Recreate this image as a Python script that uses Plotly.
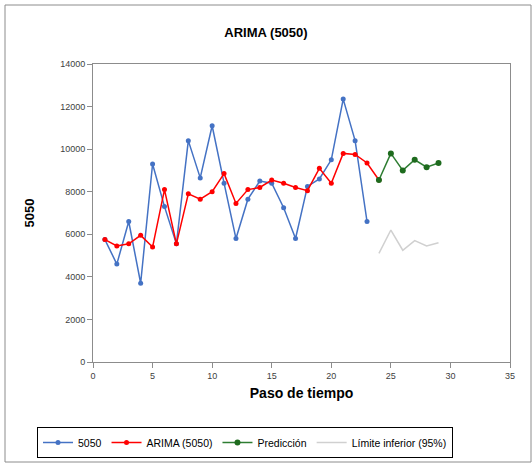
import plotly.graph_objects as go

steps_obs = list(range(1, 24))
obs_5050 = [5750, 4600, 6600, 3700, 9300, 7300, 5550, 10400, 8650, 11100, 8400, 5800,
            7650, 8500, 8400, 7250, 5800, 8250, 8600, 9500, 12350, 10400, 6600]
steps_arima = list(range(1, 25))
arima_5050 = [5750, 5450, 5550, 5950, 5400, 8100, 5550, 7900, 7650, 8000, 8850, 7450,
              8100, 8200, 8550, 8400, 8200, 8050, 9100, 8400, 9800, 9750, 9350, 8550]
steps_pred = list(range(24, 30))
prediccion = [8550, 9800, 9000, 9500, 9150, 9350]
limite_inf = [5100, 6200, 5250, 5700, 5450, 5600]

x_ticks = [0, 5, 10, 15, 20, 25, 30, 35]
y_ticks = [0, 2000, 4000, 6000, 8000, 10000, 12000, 14000]
y_labels = ["0", "2000", "4000", "6000", "8000", "10000", "12000", "14000"]

fig = go.Figure()
fig.add_trace(go.Scatter(x=steps_obs, y=obs_5050, name="5050", mode="lines+markers",
                         line=dict(color="#4472C4", width=1.5), marker=dict(size=5, color="#4472C4")))
fig.add_trace(go.Scatter(x=steps_arima, y=arima_5050, name="ARIMA (5050)", mode="lines+markers",
                         line=dict(color="#FF0000", width=1.5), marker=dict(size=5, color="#FF0000")))
fig.add_trace(go.Scatter(x=steps_pred, y=prediccion, name="Predicción", mode="lines+markers",
                         line=dict(color="#2E7D32", width=1.5), marker=dict(size=6, color="#1E6B1E")))
fig.add_trace(go.Scatter(x=steps_pred, y=limite_inf, name="Límite inferior (95%)", mode="lines",
                         line=dict(color="#D0D0D0", width=1.5)))

axis_common = dict(showgrid=False, zeroline=False, showline=True, linecolor="#8c8c8c", linewidth=1,
                   ticks="outside", tickcolor="#8c8c8c", ticklen=5,
                   tickfont=dict(size=9, color="#404040", family="Liberation Sans"))

fig.update_layout(
    width=532, height=465,
    margin=dict(l=93, r=22, t=64, b=103),
    paper_bgcolor="white", plot_bgcolor="white",
    font=dict(family="Liberation Sans", color="#000000"),
    title=dict(text="<b>ARIMA (5050)</b>", x=0.5, xanchor="center", y=0.93, yanchor="middle",
               font=dict(size=13, color="#000000")),
    xaxis=dict(range=[0, 35], tickvals=x_ticks, mirror=True, automargin=False,
               title=dict(text="<b>Paso de tiempo</b>", font=dict(size=14), standoff=8), **axis_common),
    yaxis=dict(range=[0, 14000], tickvals=y_ticks, ticktext=y_labels, mirror=True, automargin=False,
               title=dict(text="<b>5050</b>", font=dict(size=13), standoff=22), **axis_common),
    legend=dict(orientation="h", xref="container", x=37/532, xanchor="left",
                yref="container", y=1 - 427/465, yanchor="top",
                bordercolor="#000000", borderwidth=1, font=dict(size=10.5),
                itemwidth=30, tracegroupgap=0),
    showlegend=True,
)
fig.add_shape(type="rect", xref="paper", yref="paper",
              x0=-88/417, x1=1 + 21/417, y0=-100/298, y1=1 + 59/298,
              line=dict(color="#8c8c8c", width=1))

fig.write_html("out.html")
